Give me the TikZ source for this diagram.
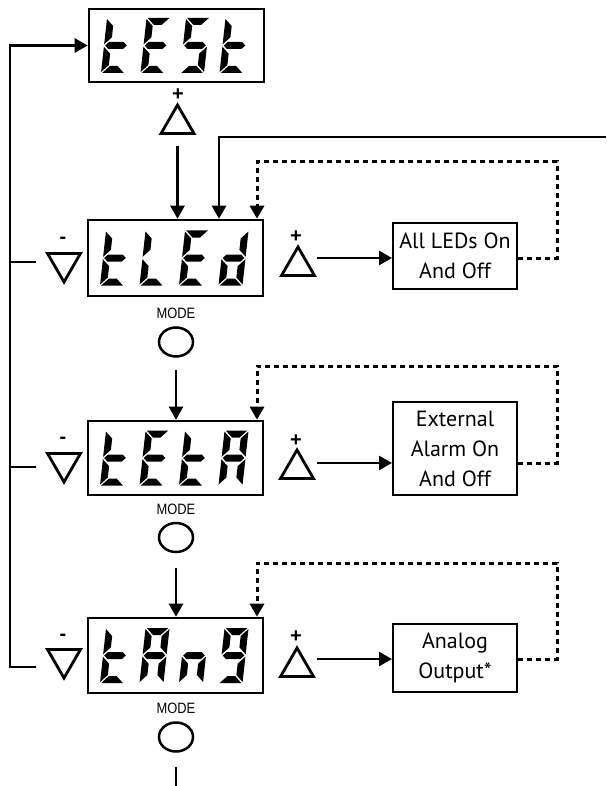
\documentclass[tikz,border=0pt]{standalone}
\usepackage{fontspec}
\setmainfont{PT Sans}
\newfontfamily\modefont{Liberation Sans}
\usetikzlibrary{arrows.meta,shapes.geometric,calc}

% seven-segment pieces (local units: pt, y upward, digit 24 x 55, stroke 7)
\def\segxa{(1.2,55) -- (22.8,55) -- (15.8,48) -- (8.2,48) -- cycle}
\def\segxd{(1.2,0) -- (22.8,0) -- (15.8,7) -- (8.2,7) -- cycle}
\def\segxg{(1.2,27.5) -- (4.7,31) -- (19.3,31) -- (22.8,27.5) -- (19.3,24) -- (4.7,24) -- cycle}
\def\segxf{(0,28.7) -- (7,35.7) -- (7,47) -- (0,54) -- cycle}
\def\segxe{(0,26.3) -- (7,19.3) -- (7,8) -- (0,1) -- cycle}
\def\segxb{(24,28.7) -- (17,35.7) -- (17,47) -- (24,54) -- cycle}
\def\segxc{(24,26.3) -- (17,19.3) -- (17,8) -- (24,1) -- cycle}

\newcommand\lcddigit[3]{%
  \begin{scope}[shift={(#1,#2)},x=1pt,y=1pt,xslant=0.11]
    \foreach \s in {#3}{\expandafter\fill\csname segx\s\endcsname;}
  \end{scope}}

\begin{document}
\begin{tikzpicture}[x=1pt,y=-1pt,
  lcd/.style={draw,line width=2.6pt,minimum width=175pt,minimum height=75pt,inner sep=0pt},
  infob/.style={draw,line width=2pt,minimum width=124pt,inner sep=0pt,align=center,
                font=\fontsize{22}{30}\selectfont},
  tri/.style={draw,line width=2.8pt,regular polygon,regular polygon sides=3,
              minimum size=38pt,inner sep=0pt},
  dtri/.style={tri,shape border rotate=180},
  modeb/.style={draw,line width=2.5pt,ellipse,minimum width=34pt,minimum height=29pt,inner sep=0pt},
  lbl/.style={inner sep=0pt,font=\modefont\fontsize{15}{15}\selectfont},
  sgn/.style={inner sep=0pt,font=\modefont\bfseries\fontsize{20}{20}\selectfont},
  arr/.style={line width=2.5pt,-{Triangle[length=13pt,width=14pt]}},
  ln/.style={line width=2.5pt},
  dot/.style={line width=3pt,dash pattern=on 5pt off 4pt,-{Triangle[length=13pt,width=14pt]}}
]
\useasboundingbox (0,0) rectangle (606,786);

% ---- TEST row
\node[lcd,minimum height=73pt] (dT) at (176.5,45.5) {};
\lcddigit{101}{73}{d,e,f,g}
\lcddigit{140.5}{73}{a,d,e,f,g}
\lcddigit{180}{73}{a,c,d,f,g}
\lcddigit{219.5}{73}{d,e,f,g}
\node[tri] (pT) at (177.5,124) {};
\node[sgn] (plT) at (178,95) {+};

% ---- tLEd row
\node[lcd,minimum height=76pt] (d1) at (175.5,258) {};
\lcddigit{100}{285.5}{d,e,f,g}
\lcddigit{139.5}{285.5}{d,e,f}
\lcddigit{179}{285.5}{a,d,e,f,g}
\lcddigit{218.5}{285.5}{b,c,d,e,g}
\node[dtri] (m1) at (64,263) {};
\node[sgn] (mi1) at (63,240) {-};
\node[tri] (p1) at (298,266) {};
\node[sgn] (pl1) at (296,237) {+};
\node[infob,minimum height=66pt] (b1) at (455,256) {All LEDs On\\And Off};
\node[lbl] (mo1) at (176,313) {\scalebox{0.86}[1]{MODE}};
\node[modeb] (c1) at (176,342) {};

% ---- tEtA row
\node[lcd,minimum height=74pt] (d2) at (175.5,458) {};
\lcddigit{100}{485.5}{d,e,f,g}
\lcddigit{139.5}{485.5}{a,d,e,f,g}
\lcddigit{179}{485.5}{d,e,f,g}
\lcddigit{218.5}{485.5}{a,b,c,e,f,g}
\node[dtri] (m2) at (64,463) {};
\node[sgn] (mi2) at (63,440) {-};
\node[tri] (p2) at (297,469) {};
\node[sgn] (pl2) at (296,441) {+};
\node[infob,minimum height=93pt] (b2) at (455,448.5) {External\\Alarm On\\And Off};
\node[lbl] (mo2) at (176,509) {\scalebox{0.86}[1]{MODE}};
\node[modeb] (c2) at (176,537.5) {};

% ---- tAng row
\node[lcd] (d3) at (175.5,655.5) {};
\lcddigit{100}{683}{d,e,f,g}
\lcddigit{139.5}{683}{a,b,c,e,f,g}
\lcddigit{179}{683}{c,e,g}
\lcddigit{218.5}{683}{a,b,c,d,f,g}
\node[dtri] (m3) at (64,659) {};
\node[sgn] (mi3) at (63,637) {-};
\node[tri] (p3) at (297,667) {};
\node[sgn] (pl3) at (296,637) {+};
\node[infob,minimum height=68pt] (b3) at (455,658) {Analog\\Output*};
\node[lbl] (mo3) at (176,708) {\scalebox{0.86}[1]{MODE}};
\node[modeb] (c3) at (176,737) {};

% ---- coordinates for free ends
\coordinate (lx) at (10,0);
\coordinate (h1) at (36,262);
\coordinate (h2) at (36,467);
\coordinate (h3) at (36,667);
\coordinate (tr) at (606,137);
\coordinate (k1) at ($(d1.north)+(43.5,0)$);
\coordinate (q1) at ($(d1.north)+(81.5,0)$);
\coordinate (q2) at ($(d2.north)+(81.5,0)$);
\coordinate (q3) at ($(d3.north)+(81.5,0)$);
\coordinate (t1) at (557,162);
\coordinate (t2) at (557,366);
\coordinate (t3) at (557,563);
\coordinate (a1) at (317,258);
\coordinate (a2) at (317,463);
\coordinate (a3) at (317,659);
\coordinate (bot) at (176,786);

% ---- left return loop
\draw[arr] (h3) -- (h3 -| lx) -- (lx |- dT.west) -- (dT.west);
\draw[ln] (h1) -- (h1 -| lx);
\draw[ln] (h2) -- (h2 -| lx);

% ---- entry from the right
\draw[arr] (tr) -- (tr -| k1) -- (k1);

% ---- vertical flow
\draw[arr] ($(pT.south)+(0,11.5)$) -- (pT.south |- d1.north);
\draw[arr] ($(c1.south)+(0,12)$) -- (c1.south |- d2.north);
\draw[arr] ($(c2.south)+(0,15)$) -- (c2.south |- d3.north);
\draw[ln] ($(c3.south)+(0,14)$) -- (bot);

% ---- plus arrows to function boxes
\draw[arr] (a1) -- (a1 -| b1.west);
\draw[arr] (a2) -- (a2 -| b2.west);
\draw[arr] (a3) -- (a3 -| b3.west);

% ---- dotted returns
\draw[dot] (a1 -| b1.east) -- (a1 -| t1) -- (t1) -| (q1);
\draw[dot] (a2 -| b2.east) -- (a2 -| t2) -- (t2) -| (q2);
\draw[dot] (a3 -| b3.east) -- (a3 -| t3) -- (t3) -| (q3);
\end{tikzpicture}
\end{document}
